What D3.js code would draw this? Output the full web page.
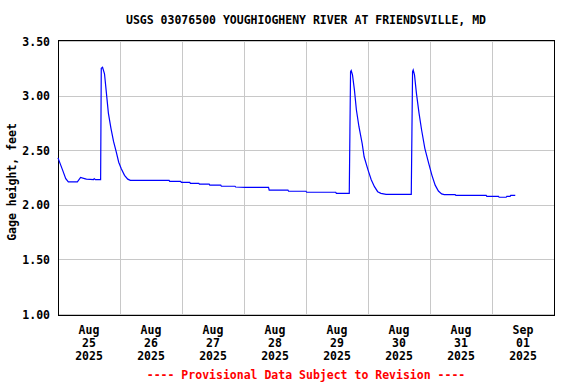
<!DOCTYPE html>
<html>
<head>
<meta charset="utf-8">
<script src="https://cdn.jsdelivr.net/npm/d3@7"></script>
<style>
  html, body { margin: 0; padding: 0; background: #fff; overflow: hidden; }
  svg { display: block; }
  svg text { font-family: "DejaVu Sans Mono", "Liberation Mono", monospace; font-weight: bold; font-size: 11.5px; }
</style>
</head>
<body>
<svg id="chart" width="576" height="384"></svg>
<script>
var titleText = "USGS 03076500 YOUGHIOGHENY RIVER AT FRIENDSVILLE, MD";
var yLabel = "Gage height, feet";
var footText = "---- Provisional Data Subject to Revision ----";

var yTicks = [1.0, 1.5, 2.0, 2.5, 3.0, 3.5];
var dayTicks = ["2025-08-25", "2025-08-26", "2025-08-27", "2025-08-28", "2025-08-29", "2025-08-30", "2025-08-31", "2025-09-01"];

// readings (time, gage height ft)
var times = [
  "2025-08-25 00:00", "2025-08-25 01:45", "2025-08-25 03:00", "2025-08-25 04:00", "2025-08-25 07:30",
  "2025-08-25 08:45", "2025-08-25 10:15", "2025-08-25 11:00", "2025-08-25 13:45", "2025-08-25 14:00",
  "2025-08-25 14:30", "2025-08-25 16:30", "2025-08-25 16:45", "2025-08-25 17:15", "2025-08-25 18:00",
  "2025-08-25 18:45", "2025-08-25 19:30", "2025-08-25 20:30", "2025-08-25 21:30", "2025-08-25 22:30",
  "2025-08-25 23:30", "2025-08-26 00:30", "2025-08-26 01:45", "2025-08-26 03:00", "2025-08-26 04:00",
  "2025-08-26 19:00", "2025-08-26 19:15", "2025-08-26 23:30", "2025-08-26 23:45", "2025-08-27 03:00",
  "2025-08-27 03:15", "2025-08-27 06:30", "2025-08-27 06:45", "2025-08-27 10:30", "2025-08-27 10:45",
  "2025-08-27 15:00", "2025-08-27 15:15", "2025-08-27 20:30", "2025-08-27 20:45", "2025-08-28 00:30",
  "2025-08-28 09:30", "2025-08-28 09:45", "2025-08-28 17:00", "2025-08-28 17:15", "2025-08-29 00:00",
  "2025-08-29 00:15", "2025-08-29 11:30", "2025-08-29 11:45", "2025-08-29 16:45", "2025-08-29 17:00",
  "2025-08-29 17:15", "2025-08-29 17:30", "2025-08-29 18:00", "2025-08-29 18:45", "2025-08-29 19:30",
  "2025-08-29 20:30", "2025-08-29 21:45", "2025-08-29 22:30", "2025-08-30 00:00", "2025-08-30 01:15",
  "2025-08-30 02:30", "2025-08-30 03:45", "2025-08-30 05:00", "2025-08-30 07:00", "2025-08-30 16:45",
  "2025-08-30 17:00", "2025-08-30 17:15", "2025-08-30 17:30", "2025-08-30 18:00", "2025-08-30 18:45",
  "2025-08-30 19:45", "2025-08-30 20:45", "2025-08-30 22:00", "2025-08-30 23:30", "2025-08-31 00:45",
  "2025-08-31 02:00", "2025-08-31 03:15", "2025-08-31 04:30", "2025-08-31 05:30", "2025-08-31 09:45",
  "2025-08-31 10:00", "2025-08-31 21:45", "2025-08-31 22:00", "2025-09-01 02:30", "2025-09-01 02:45",
  "2025-09-01 05:30", "2025-09-01 05:45", "2025-09-01 07:00", "2025-09-01 07:15", "2025-09-01 09:00"
];
var heights = [
  2.43, 2.32, 2.24, 2.21, 2.21,
  2.25, 2.24, 2.235, 2.23, 2.24,
  2.23, 2.23, 3.25, 3.26, 3.20,
  3.02, 2.84, 2.70, 2.58, 2.49,
  2.39, 2.33, 2.27, 2.235, 2.224,
  2.224, 2.215, 2.215, 2.206, 2.206,
  2.197, 2.197, 2.19, 2.19, 2.18,
  2.18, 2.17, 2.17, 2.163, 2.16,
  2.16, 2.135, 2.135, 2.124, 2.124,
  2.115, 2.115, 2.105, 2.105, 2.67,
  3.22, 3.23, 3.19, 3.05, 2.87,
  2.715, 2.56, 2.44, 2.32, 2.23,
  2.166, 2.12, 2.105, 2.096, 2.096,
  2.655, 3.22, 3.235, 3.19, 3.02,
  2.84, 2.685, 2.517, 2.38, 2.27,
  2.18, 2.126, 2.10, 2.093, 2.093,
  2.087, 2.087, 2.078, 2.078, 2.069,
  2.069, 2.078, 2.078, 2.087, 2.087
];

var margin = { top: 40, right: 22, bottom: 69, left: 58 };
var width = 576, height = 384;
var innerWidth = width - margin.left - margin.right;
var innerHeight = height - margin.top - margin.bottom;

var parseTime = d3.timeParse("%Y-%m-%d %H:%M");
var parseDay = d3.timeParse("%Y-%m-%d");

var series = times.map(function(t, i) { return { t: parseTime(t), v: heights[i] }; });

var svg = d3.select("#chart");

// centred text placed by its measured width, start-anchored
function centredText(parent, cx, yy, str) {
  var t = parent.append("text").attr("y", yy).text(str);
  var w = t.node().getComputedTextLength();
  t.attr("x", cx - w / 2);
  return t;
}

var x = d3.scaleTime()
  .domain([parseDay("2025-08-25"), parseDay("2025-09-02")])
  .range([margin.left, margin.left + innerWidth]);

var y = d3.scaleLinear()
  .domain([1, 3.5])
  .range([margin.top + innerHeight - 1, margin.top + 1]);

// horizontal grid + y labels
var yAxis = svg.append("g")
  .attr("transform", "translate(" + margin.left + ",0)")
  .call(d3.axisLeft(y).tickValues(yTicks).tickFormat(d3.format(".2f")).tickSize(-innerWidth).tickPadding(8));
yAxis.select(".domain").remove();
yAxis.selectAll("line").attr("stroke", "#c8c8c8").attr("shape-rendering", "crispEdges");
yAxis.selectAll("text").attr("fill", "#000").attr("font-size", null).attr("font-family", null).attr("dy", "0.36em");

// vertical grid at midnight
var gridDays = dayTicks.slice(1).map(parseDay);
var xGrid = svg.append("g")
  .attr("transform", "translate(0," + (margin.top + innerHeight) + ")")
  .call(d3.axisBottom(x).tickValues(gridDays).tickSize(-innerHeight).tickFormat(""));
xGrid.select(".domain").remove();
xGrid.selectAll("text").remove();
xGrid.selectAll("line").attr("stroke", "#c8c8c8").attr("shape-rendering", "crispEdges");

// day labels at noon, three lines each
var noon = dayTicks.map(function(d) { return d3.timeHour.offset(parseDay(d), 12); });
var fmts = [d3.timeFormat("%b"), d3.timeFormat("%d"), d3.timeFormat("%Y")];
var xLab = svg.append("g").attr("class", "x-labels").attr("fill", "#000");
noon.forEach(function(d) {
  fmts.forEach(function(f, k) {
    centredText(xLab, x(d), margin.top + innerHeight + 19 + 13 * k, f(d));
  });
});

// frame
svg.append("rect")
  .attr("x", margin.left + 0.5)
  .attr("y", margin.top + 0.5)
  .attr("width", innerWidth)
  .attr("height", innerHeight)
  .attr("fill", "none")
  .attr("stroke", "#000")
  .attr("stroke-width", 1);

// data line
svg.append("path")
  .datum(series)
  .attr("d", d3.line().x(function(d) { return x(d.t); }).y(function(d) { return y(d.v); }))
  .attr("fill", "none")
  .attr("stroke", "#0000ff")
  .attr("stroke-width", 1.2);

centredText(svg, margin.left + innerWidth / 2, 24, titleText);

svg.append("text")
  .attr("transform", "translate(16,182) rotate(-90)")
  .attr("text-anchor", "middle")
  .text(yLabel);

centredText(svg, margin.left + innerWidth / 2, 379, footText)
  .attr("fill", "#ff0000");
</script>
</body>
</html>
